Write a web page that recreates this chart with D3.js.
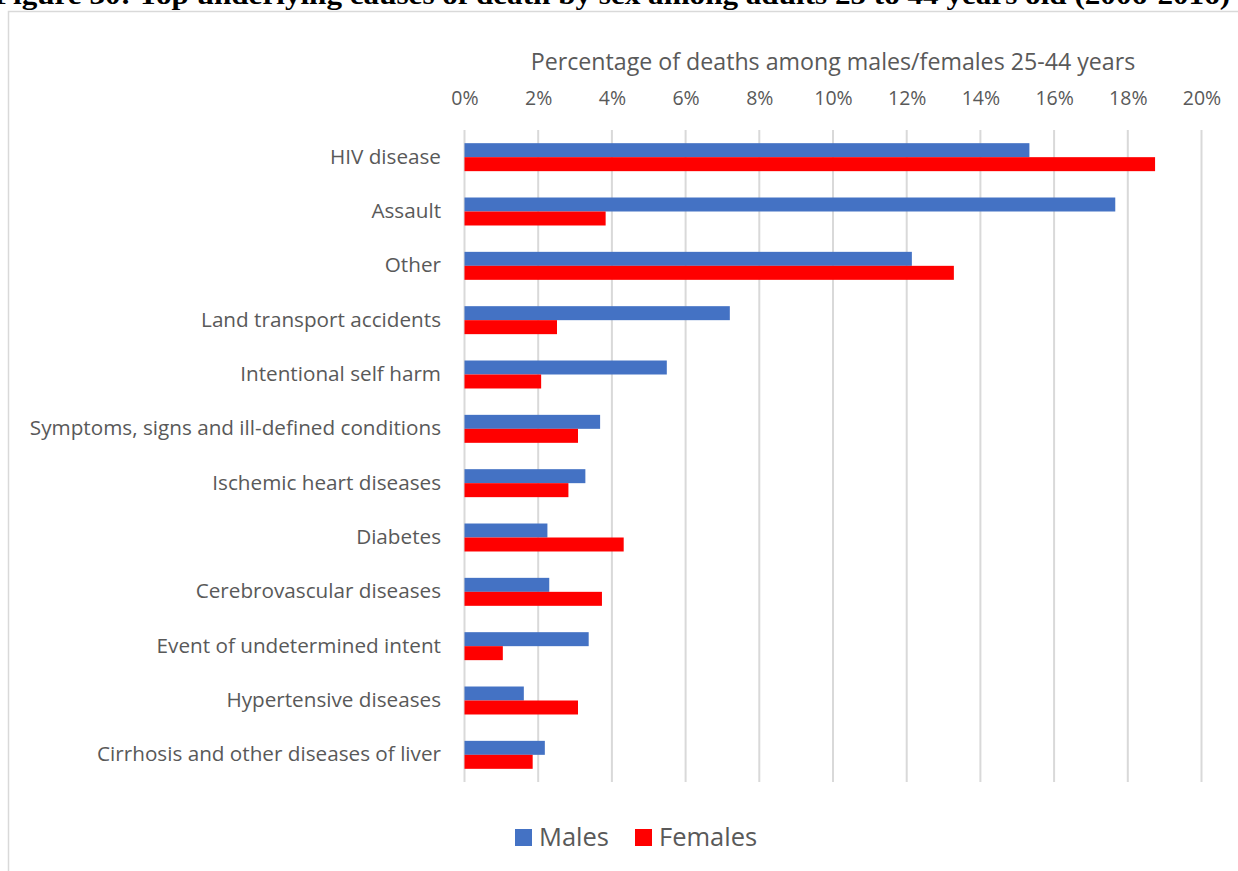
<!DOCTYPE html>
<html>
<head>
<meta charset="utf-8">
<script src="https://cdn.jsdelivr.net/npm/d3@7"></script>
<style>
  html, body { margin: 0; padding: 0; background: #fff; overflow: hidden; }
  svg { display: block; }
</style>
</head>
<body>
<svg id="chart" width="1238" height="871"></svg>
<script>
const titleText = "Figure 30: Top underlying causes of death by sex among adults 25 to 44 years old (2006-2016)";
const axisTitle = "Percentage of deaths among males/females 25-44 years";
const categories = [
  "HIV disease",
  "Assault",
  "Other",
  "Land transport accidents",
  "Intentional self harm",
  "Symptoms, signs and ill-defined conditions",
  "Ischemic heart diseases",
  "Diabetes",
  "Cerebrovascular diseases",
  "Event of undetermined intent",
  "Hypertensive diseases",
  "Cirrhosis and other diseases of liver"
];
const seriesNames = ["Males", "Females"];
const males   = [15.33, 17.66, 12.14, 7.20, 5.49, 3.68, 3.28, 2.25, 2.30, 3.37, 1.61, 2.18];
const females = [18.74, 3.83, 13.28, 2.51, 2.08, 3.08, 2.82, 4.32, 3.73, 1.04, 3.08, 1.85];
const tickValues = [0, 2, 4, 6, 8, 10, 12, 14, 16, 18, 20];

const colors = {Males: "#4472C4", Females: "#FF0000"};
const textColor = "#595959";
const font = "'Open Sans', 'Noto Sans', sans-serif";

const svg = d3.select("#chart");

// title, cut off at the top edge as in the reference
svg.append("text")
  .attr("x", -6).attr("y", 4)
  .attr("text-anchor", "start")
  .attr("textLength", 1236)
  .attr("lengthAdjust", "spacingAndGlyphs")
  .attr("font-family", "'Liberation Serif', 'DejaVu Serif', serif")
  .attr("font-weight", "bold")
  .attr("font-size", 27)
  .attr("fill", "#000")
  .text(titleText);

// chart border
svg.append("rect")
  .attr("x", 8.5).attr("y", 11.5)
  .attr("width", 1250).attr("height", 880)
  .attr("fill", "#fff")
  .attr("stroke", "#d9d9d9")
  .attr("stroke-width", 1.5);

const x = d3.scaleLinear().domain([0, 20]).range([464.5, 1201.5]);
const y = d3.scaleBand().domain(categories).range([130, 782]).paddingInner(0.485).paddingOuter(0.2425);
const ySub = d3.scaleBand().domain(seriesNames).range([0, y.bandwidth()]);

// gridlines
svg.append("g").selectAll("line")
  .data(tickValues).join("line")
  .attr("x1", d => x(d)).attr("x2", d => x(d))
  .attr("y1", 130).attr("y2", 782)
  .attr("stroke", "#d9d9d9").attr("stroke-width", 2);

// top axis
const axis = d3.axisTop(x).tickValues(tickValues).tickFormat(d => d + "%").tickSize(0).tickPadding(0);
const gAxis = svg.append("g").attr("transform", "translate(0,105)").call(axis);
gAxis.select(".domain").remove();
gAxis.selectAll("text")
  .attr("font-family", font).attr("font-size", 19.5).attr("fill", textColor)
  .attr("dy", 0);

// axis title
svg.append("text")
  .attr("x", x(10)).attr("y", 70)
  .attr("text-anchor", "middle")
  .attr("font-family", font).attr("font-size", 23.2).attr("fill", textColor)
  .text(axisTitle);

// category axis
const yAxis = d3.axisLeft(y).tickSize(0).tickPadding(0);
const gY = svg.append("g").attr("transform", "translate(441,0)").call(yAxis);
gY.select(".domain").remove();
gY.selectAll("text")
  .attr("font-family", font).attr("font-size", 20.7).attr("fill", textColor);

// bars
const rows = categories.map((c, i) => ({cat: c, Males: males[i], Females: females[i]}));
const groups = svg.append("g").selectAll("g")
  .data(rows).join("g")
  .attr("transform", d => `translate(0,${y(d.cat)})`);
groups.selectAll("rect")
  .data(d => seriesNames.map(s => ({s, v: d[s]})))
  .join("rect")
  .attr("x", x(0))
  .attr("y", d => ySub(d.s))
  .attr("width", d => x(d.v) - x(0))
  .attr("height", ySub.bandwidth())
  .attr("fill", d => colors[d.s]);

// legend
const legend = svg.append("g");
const legendItems = [{s: "Males", x: 515}, {s: "Females", x: 635}];
legendItems.forEach(it => {
  legend.append("rect")
    .attr("x", it.x).attr("y", 829)
    .attr("width", 17).attr("height", 17)
    .attr("fill", colors[it.s]);
  legend.append("text")
    .attr("x", it.x + 24).attr("y", 846)
    .attr("font-family", font).attr("font-size", 25.5).attr("fill", textColor)
    .text(it.s);
});
</script>
</body>
</html>
